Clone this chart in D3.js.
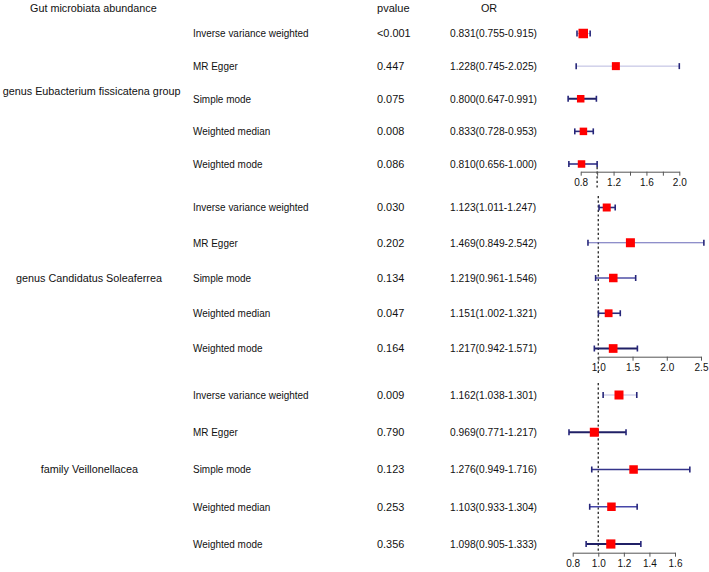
<!DOCTYPE html>
<html>
<head>
<meta charset="utf-8">
<script src="https://cdn.jsdelivr.net/npm/d3@7"></script>
<style>
  html, body { margin: 0; padding: 0; background: #fff; }
  svg { display: block; }
  text { font-family: "Liberation Sans", Arial, sans-serif; fill: #111; }
</style>
</head>
<body>
<svg id="chart" width="709" height="572"></svg>
<script>
// ---------------- DATA ----------------
const methods = ["Inverse variance weighted", "MR Egger", "Simple mode", "Weighted median", "Weighted mode"];
const groups = ["genus Eubacterium fissicatena group", "genus Candidatus Soleaferrea", "family Veillonellacea"];

const pvalues1 = ["<0.001", "0.447", "0.075", "0.008", "0.086"];
const or1   = [0.831, 1.228, 0.800, 0.833, 0.810];
const lower1 = [0.755, 0.745, 0.647, 0.728, 0.656];
const upper1 = [0.915, 2.025, 0.991, 0.953, 1.000];

const pvalues2 = ["0.030", "0.202", "0.134", "0.047", "0.164"];
const or2   = [1.123, 1.469, 1.219, 1.151, 1.217];
const lower2 = [1.011, 0.849, 0.961, 1.002, 0.942];
const upper2 = [1.247, 2.542, 1.546, 1.321, 1.571];

const pvalues3 = ["0.009", "0.790", "0.123", "0.253", "0.356"];
const or3   = [1.162, 0.969, 1.276, 1.103, 1.098];
const lower3 = [1.038, 0.771, 0.949, 0.933, 0.905];
const upper3 = [1.301, 1.217, 1.716, 1.304, 1.333];

const ticks1 = [0.8, 1.0, 1.2, 1.4, 1.6, 1.8, 2.0];
const tickLabels1 = ["0.8", "", "1.2", "", "1.6", "", "2.0"];
const ticks2 = [1.0, 1.5, 2.0, 2.5];
const tickLabels2 = ["1.0", "1.5", "2.0", "2.5"];
const ticks3 = [0.8, 1.0, 1.2, 1.4, 1.6];
const tickLabels3 = ["0.8", "1.0", "1.2", "1.4", "1.6"];

const headerGroup = "Gut microbiata abundance";
const headerP = "pvalue";
const headerOR = "OR";

// ---------------- STYLE / LAYOUT ----------------
const panels = [
  { group: groups[0], p: pvalues1, or: or1, lo: lower1, hi: upper1, ticks: ticks1, labels: tickLabels1,
    domain: [0.8, 2.0], xr: [580.7, 679.3], clipHi: true, rows: [33.5, 164], axisY: 171.7,
    groupX: 2.7, groupY: 95, ref: [167, 188],
    sq: [9.5, 8, 7.5, 7.5, 7.5],
    lc: ["#b9b9df", "#b9b9df", "#202066", "#2b2b7c", "#34348a"], lw: [1, 1, 2, 1.6, 1.6] },
  { group: groups[1], p: pvalues2, or: or2, lo: lower2, hi: upper2, ticks: ticks2, labels: tickLabels2,
    domain: [1.0, 2.5], xr: [598.3, 701], clipHi: false, rows: [207.5, 348.5], axisY: 356.7,
    groupX: 16, groupY: 281.7, ref: [196, 373],
    sq: [8, 9, 8.5, 7.8, 8.7],
    lc: ["#2b2b7c", "#6a6ab8", "#4f4fa6", "#2b2b7c", "#202066"], lw: [1.6, 1, 1.4, 1.6, 2] },
  { group: groups[2], p: pvalues3, or: or3, lo: lower3, hi: upper3, ticks: ticks3, labels: tickLabels3,
    domain: [0.8, 1.6], xr: [572.7, 675], clipHi: false, rows: [395, 544], axisY: 552.7,
    groupX: 40.7, groupY: 473.3, ref: [383, 553],
    sq: [9, 9, 8.5, 8.5, 9.2],
    lc: ["#b9b9df", "#202066", "#34348a", "#4646a8", "#202066"], lw: [1, 2, 1.6, 1.5, 2] }
];

const svg = d3.select("#chart");
const fmt = d3.format(".3f");
const FS = 11.5;

function addText(x, y, str, sx, opts = {}) {
  svg.append("text")
    .attr("transform", `translate(${x},${y}) scale(${sx},1)`)
    .attr("text-anchor", opts.anchor || "start")
    .style("font-size", (opts.size || FS) + "px")
    .text(str);
}

// headers
addText(30, 12, headerGroup, 0.94);
addText(377, 12, headerP, 0.96);
addText(489, 12, headerOR, 0.94, { anchor: "middle" });

panels.forEach(pn => {
  const x = d3.scaleLinear().domain(pn.domain).range(pn.xr);
  const y = d3.scalePoint().domain(methods).range(pn.rows);
  const xMax = pn.xr[1];
  const g = svg.append("g");

  // group label
  addText(pn.groupX, pn.groupY, pn.group, 0.94);

  // text columns
  methods.forEach((m, i) => {
    const yy = y(m) + 3.8;
    addText(193, yy, m, 0.865);
    addText(377, yy, pn.p[i], 0.95);
    addText(450, yy, `${fmt(pn.or[i])}(${fmt(pn.lo[i])}-${fmt(pn.hi[i])})`, 0.89);
  });

  // reference dotted line at OR = 1
  g.append("line")
    .attr("x1", x(1)).attr("x2", x(1))
    .attr("y1", pn.ref[0]).attr("y2", pn.ref[1])
    .attr("stroke", "#333").attr("stroke-width", 1.4)
    .attr("stroke-dasharray", "2.2,2.4");

  // axis
  const axis = d3.axisBottom(x)
    .tickValues(pn.ticks)
    .tickFormat((d, i) => pn.labels[i])
    .tickSize(4)
    .tickSizeOuter(0);
  const ag = svg.append("g")
    .attr("transform", `translate(0,${pn.axisY})`)
    .call(axis);
  ag.select(".domain").attr("stroke", "#555").attr("stroke-width", 1);
  ag.selectAll(".tick line").attr("stroke", "#555").attr("stroke-width", 1);
  ag.selectAll(".tick text")
    .attr("fill", "#222")
    .style("font-family", '"Liberation Sans", Arial, sans-serif')
    .style("font-size", "10px");

  // CI lines, caps, squares
  methods.forEach((m, i) => {
    const yy = y(m);
    const x1 = x(pn.lo[i]);
    const x2 = pn.clipHi ? Math.min(x(pn.hi[i]), xMax) : x(pn.hi[i]);
    g.append("line")
      .attr("x1", x1).attr("x2", x2).attr("y1", yy).attr("y2", yy)
      .attr("stroke", pn.lc[i]).attr("stroke-width", pn.lw[i]);
    [x1, x2].forEach(cx => {
      g.append("line")
        .attr("x1", cx).attr("x2", cx).attr("y1", yy - 3).attr("y2", yy + 3)
        .attr("stroke", "#26267a").attr("stroke-width", 1.6);
    });
    const s = pn.sq[i];
    g.append("rect")
      .attr("x", x(pn.or[i]) - s / 2).attr("y", yy - s / 2)
      .attr("width", s).attr("height", s)
      .attr("fill", "#ff0000");
  });
});
</script>
</body>
</html>
